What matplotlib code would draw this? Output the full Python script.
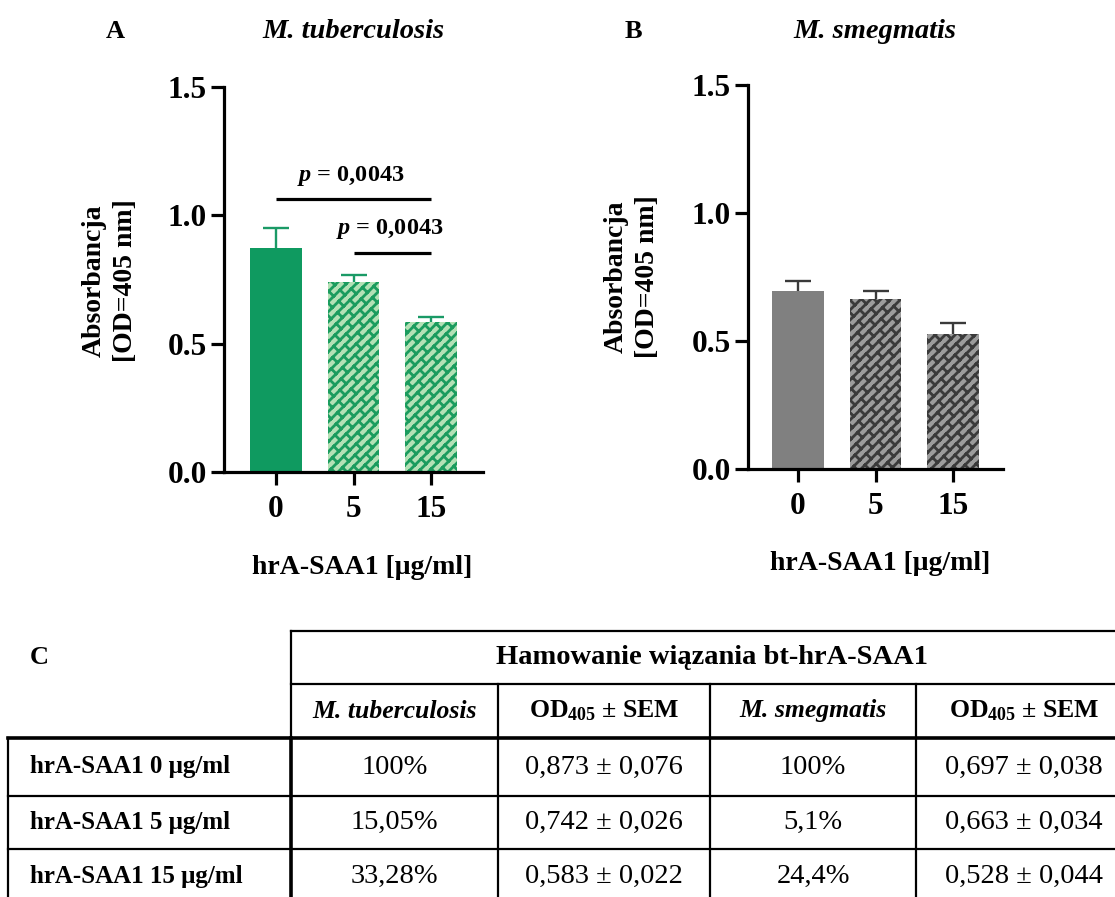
import warnings
warnings.filterwarnings('ignore')
import numpy as np
import matplotlib
matplotlib.use('Agg')
import matplotlib.pyplot as plt
import matplotlib.hatch as mhatch
from matplotlib.path import Path

# ---------------- data ----------------
doses = ['0', '5', '15']
mtb_mean = [0.873, 0.742, 0.583]
mtb_sem = [0.076, 0.026, 0.022]
msm_mean = [0.697, 0.663, 0.528]
msm_sem = [0.038, 0.034, 0.044]
y_ticks = [0.0, 0.5, 1.0, 1.5]
y_tick_labels = ['0.0', '0.5', '1.0', '1.5']
p_values = ['0,0043', '0,0043']
p_pairs = [(0, 2), (1, 2)]
p_heights = [1.063, 0.855]

table_title = 'Hamowanie wiązania bt-hrA-SAA1'
table_cols = ['M. tuberculosis', r'$\mathrm{OD_{405}}$ ± SEM', 'M. smegmatis', r'$\mathrm{OD_{405}}$ ± SEM']
table_rows = ['hrA-SAA1 0 μg/ml', 'hrA-SAA1 5 μg/ml', 'hrA-SAA1 15 μg/ml']
mtb_inhib = ['100%', '15,05%', '33,28%']
msm_inhib = ['100%', '5,1%', '24,4%']

# ---------------- style ----------------
plt.rcParams['font.family'] = ['Liberation Serif', 'DejaVu Serif']
plt.rcParams['mathtext.fontset'] = 'custom'
plt.rcParams['mathtext.rm'] = 'Liberation Serif:bold'
plt.rcParams['mathtext.bf'] = 'Liberation Serif:bold'
plt.rcParams['mathtext.it'] = 'Liberation Serif:italic:bold'
plt.rcParams['hatch.linewidth'] = 2.0


class BrickHatch(mhatch.HatchPatternBase):
    """Diagonal brick pattern (bricks elongated along the NE direction)."""
    N = 10
    M = 4

    def __init__(self, hatch, density):
        self.segs = self._make() if 'b' in hatch else []
        self.num_vertices = len(self.segs) * 2

    def _make(self):
        segs = []
        N, M = self.N, self.M
        for k in range(-N, N + 1):
            v = k / N
            segs.append(((-0.2, v), (2.2, v)))
        for k in range(-N, N):
            v0, v1 = k / N, (k + 1) / N
            off = (k % 2) * 0.5 / M
            for j in range(-1, 2 * M + 2):
                u = j / M + off
                segs.append(((u, v0), (u, v1)))
        return segs

    def set_vertices_and_codes(self, vertices, codes):
        for i, ((u0, v0), (u1, v1)) in enumerate(self.segs):
            vertices[2 * i] = ((u0 - v0) / 2, (u0 + v0) / 2)
            vertices[2 * i + 1] = ((u1 - v1) / 2, (u1 + v1) / 2)
            codes[2 * i] = Path.MOVETO
            codes[2 * i + 1] = Path.LINETO


mhatch._hatch_types.insert(0, BrickHatch)

W, H = 1115, 897
fig = plt.figure(figsize=(W / 100, H / 100), dpi=100)


def fx(x):
    return x / W


def fy(y):
    return 1 - y / H


def make_axes(left, right, top, bottom):
    return fig.add_axes([fx(left), fy(bottom), fx(right - left), (bottom - top) / H])


def style(ax, xlim):
    for s in ['top', 'right']:
        ax.spines[s].set_visible(False)
    for s in ['left', 'bottom']:
        ax.spines[s].set_linewidth(2.3)
    ax.set_ylim(0, 1.5)
    ax.set_xlim(*xlim)
    ax.set_yticks(y_ticks)
    ax.set_yticklabels(y_tick_labels)
    ax.set_xticks(range(len(doses)))
    ax.set_xticklabels(doses)
    ax.tick_params(axis='both', length=9.5, width=2.3, labelsize=22.5)
    ax.tick_params(axis='y', pad=3)
    ax.tick_params(axis='x', pad=7)
    for t in ax.get_xticklabels() + ax.get_yticklabels():
        t.set_fontweight('bold')
    ax.patch.set_alpha(0)


def draw_bars(ax, means, sems, fills, hatch_col, err_col):
    x = np.arange(len(means))
    bars = ax.bar(x, means, width=0.66, color=fills, edgecolor=hatch_col, linewidth=0)
    for b, h in zip(bars, [None, 'b', 'b']):
        if h:
            b.set_hatch(h)
    eb = ax.errorbar(x, means, yerr=[np.zeros(len(means)), sems], fmt='none',
                     ecolor=err_col, elinewidth=1.7, capsize=9.5, capthick=1.7, zorder=3)
    eb[1][0].set_visible(False)


# Panel A
axA = make_axes(224, 483, 87, 472)
style(axA, (-0.67, 2.67))
draw_bars(axA, mtb_mean, mtb_sem, ['#0f9a60', '#b3e1b5', '#b3e1b5'], '#1b9c5e', '#1a9a66')
for (a, b), h, p in zip(p_pairs, p_heights, p_values):
    axA.plot([a, b], [h, h], color='black', lw=2.3, solid_capstyle='butt', clip_on=False)
    axA.text((a + b) / 2 - 0.03, h + 0.09, r'$p$ = ' + p, ha='center', va='center',
             fontsize=17.5, fontweight='bold')

# Panel B
axB = make_axes(748, 1003, 85, 469)
style(axB, (-0.645, 2.645))
draw_bars(axB, msm_mean, msm_sem, ['#808080', '#9c9c9c', '#9c9c9c'], '#3a3a3a', '#3a3a3a')

# titles / labels
fig.text(fx(115), fy(31), 'A', fontsize=19, fontweight='bold', ha='center', va='center')
fig.text(fx(353), fy(31), 'M. tuberculosis', fontsize=20.5, fontweight='bold', style='italic',
         ha='center', va='center')
fig.text(fx(633), fy(31), 'B', fontsize=19, fontweight='bold', ha='center', va='center')
fig.text(fx(875), fy(31), 'M. smegmatis', fontsize=20.5, fontweight='bold', style='italic',
         ha='center', va='center')
ylab = 'Absorbancja\n[OD=405 nm]'
fig.text(fx(110), fy(281), ylab, rotation=90, fontsize=20, fontweight='bold',
         ha='center', va='center', multialignment='center', linespacing=1.3)
fig.text(fx(632), fy(277), ylab, rotation=90, fontsize=20, fontweight='bold',
         ha='center', va='center', multialignment='center', linespacing=1.3)
xlab = 'hrA-SAA1 [μg/ml]'
fig.text(fx(362), fy(568), xlab, fontsize=20, fontweight='bold', ha='center', va='center')
fig.text(fx(880), fy(563), xlab, fontsize=20, fontweight='bold', ha='center', va='center')

# ---------------- table C ----------------
tax = fig.add_axes([0, 0, 1, 1])
tax.set_xlim(0, W)
tax.set_ylim(H, 0)
tax.axis('off')
tax.patch.set_alpha(0)

col_x = [291, 498, 710, 916, 1132]
row_y = [631, 684, 738, 796, 849, 903]
thin, thick = 1.6, 2.6


def hline(y, x0, x1, lw):
    tax.plot([x0, x1], [y, y], color='black', lw=lw, solid_capstyle='projecting', clip_on=True)


def vline(x, y0, y1, lw):
    tax.plot([x, x], [y0, y1], color='black', lw=lw, solid_capstyle='projecting', clip_on=True)


hline(row_y[0], col_x[0], col_x[-1], thin)
hline(row_y[1], col_x[0], col_x[-1], thin)
hline(row_y[2], 8, col_x[-1], thick)
hline(row_y[3], 8, col_x[-1], thin)
hline(row_y[4], 8, col_x[-1], thin)
hline(row_y[5], 8, col_x[-1], thin)
vline(col_x[0], row_y[0], row_y[2], thin)
vline(col_x[0], row_y[2], row_y[5], thick)
vline(8, row_y[2], row_y[5], thin)
for cx in col_x[1:-1]:
    vline(cx, row_y[1], row_y[5], thin)
vline(col_x[-1], row_y[0], row_y[5], thin)

tax.text(30, 657, 'C', fontsize=19, fontweight='bold', ha='left', va='center')
tax.text((col_x[0] + col_x[-1]) / 2, (row_y[0] + row_y[1]) / 2, table_title,
         fontsize=20.5, fontweight='bold', ha='center', va='center')
for i, c in enumerate(table_cols):
    cx = (col_x[i] + col_x[i + 1]) / 2
    italic = 'italic' if i in (0, 2) else 'normal'
    tax.text(cx, (row_y[1] + row_y[2]) / 2, c, fontsize=18.5, fontweight='bold', style=italic,
             ha='center', va='center')

for r in range(len(table_rows)):
    cy = (row_y[2 + r] + row_y[3 + r]) / 2
    tax.text(30, cy, table_rows[r], fontsize=18, fontweight='bold', ha='left', va='center')
    cells = [mtb_inhib[r],
             f'{mtb_mean[r]:.3f} ± {mtb_sem[r]:.3f}'.replace('.', ','),
             msm_inhib[r],
             f'{msm_mean[r]:.3f} ± {msm_sem[r]:.3f}'.replace('.', ',')]
    for i, c in enumerate(cells):
        cx = (col_x[i] + col_x[i + 1]) / 2
        tax.text(cx, cy, c, fontsize=20.5, ha='center', va='center')

fig.savefig('out.png', dpi=100)
